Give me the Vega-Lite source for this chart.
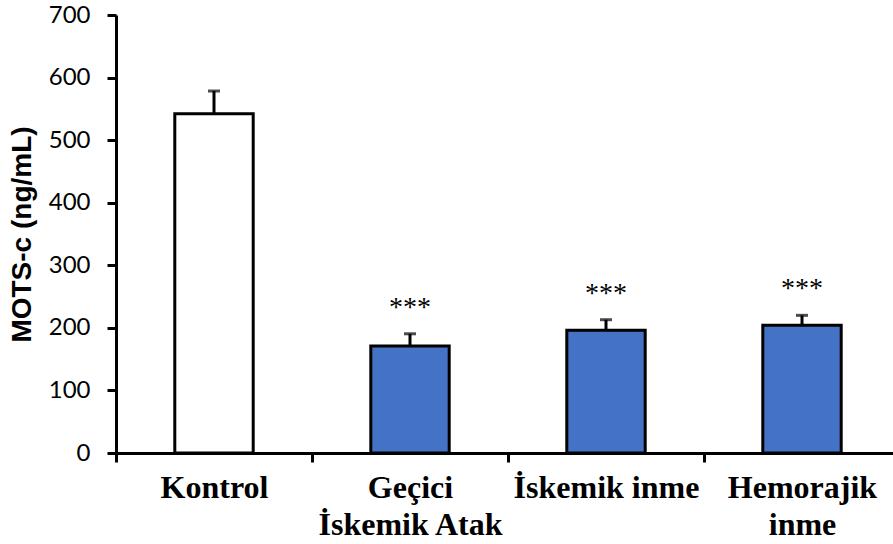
{
  "$schema": "https://vega.github.io/schema/vega-lite/v6.json",
  "autosize": {"type": "none"},
  "padding": {"left": 116, "top": 15, "right": 0, "bottom": 91},
  "width": 777,
  "height": 438,
  "background": "white",
  "config": {"view": {"stroke": null}},
  "data": {
    "values": [
      {"group": "Kontrol", "mean": 542, "upper": 578.5, "sig": ""},
      {"group": "Geçici İskemik Atak", "mean": 171, "upper": 190.5, "sig": "***"},
      {"group": "İskemik inme", "mean": 196, "upper": 213, "sig": "***"},
      {"group": "Hemorajik inme", "mean": 204, "upper": 220, "sig": "***"}
    ]
  },
  "encoding": {
    "x": {
      "field": "group",
      "type": "nominal",
      "sort": null,
      "scale": {"range": [0, 784], "paddingInner": 0, "paddingOuter": 0},
      "axis": {
        "title": null,
        "labelAngle": 0,
        "labelLimit": 0,
        "tickBand": "extent",
        "domainColor": "black",
        "domainWidth": 3,
        "tickColor": "black",
        "tickWidth": 3,
        "tickSize": 9,
        "labelFont": "Liberation Serif",
        "labelFontWeight": "bold",
        "labelFontSize": 32,
        "labelColor": "black",
        "labelPadding": 10,
        "labelLineHeight": 37,
        "labelExpr": "datum.value == 'Geçici İskemik Atak' ? ['Geçici', 'İskemik Atak'] : datum.value == 'Hemorajik inme' ? ['Hemorajik', 'inme'] : datum.label"
      }
    }
  },
  "layer": [
    {
      "mark": {"type": "rule", "color": "black", "strokeWidth": 3},
      "encoding": {
        "y": {"field": "mean", "type": "quantitative"},
        "y2": {"field": "upper"}
      }
    },
    {
      "mark": {"type": "bar", "width": {"band": 0.4}, "stroke": "black", "strokeWidth": 3},
      "encoding": {
        "y": {
          "field": "mean",
          "type": "quantitative",
          "scale": {"domain": [0, 700], "nice": false},
          "axis": {
            "title": "MOTS-c (ng/mL)",
            "values": [0, 100, 200, 300, 400, 500, 600, 700],
            "grid": false,
            "domainColor": "black",
            "domainWidth": 3,
            "tickColor": "black",
            "tickWidth": 3,
            "tickSize": 9,
            "labelFont": "Lato",
            "labelFontSize": 24,
            "labelColor": "black",
            "labelPadding": 17,
            "titleFont": "Liberation Sans",
            "titleFontWeight": "bold",
            "titleFontSize": 28,
            "titleColor": "black",
            "titlePadding": 12
          }
        },
        "fill": {
          "field": "group",
          "type": "nominal",
          "scale": {"domain": ["Kontrol", "Geçici İskemik Atak", "İskemik inme", "Hemorajik inme"], "range": ["#ffffff", "#4472c4", "#4472c4", "#4472c4"]},
          "legend": null
        }
      }
    },
    {
      "mark": {"type": "tick", "color": "black", "orient": "horizontal", "size": 12, "thickness": 3},
      "encoding": {
        "y": {"field": "upper", "type": "quantitative"}
      }
    },
    {
      "mark": {"type": "text", "font": "Liberation Serif", "fontSize": 28, "baseline": "bottom", "dy": -12, "color": "black"},
      "encoding": {
        "y": {"field": "upper", "type": "quantitative"},
        "text": {"field": "sig"}
      }
    }
  ]
}
